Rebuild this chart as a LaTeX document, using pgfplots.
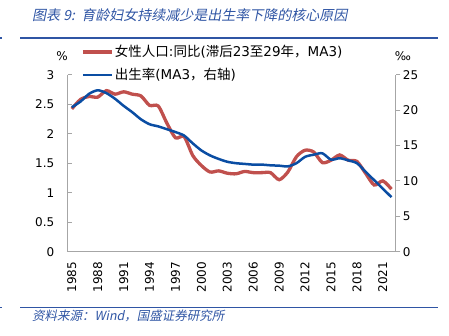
\documentclass[border=0pt]{standalone}
\usepackage{pgfplots}
\pgfplotsset{compat=1.18}
\usepackage{pgfplotstable}
\usepackage{fontspec}
\setmainfont{DejaVu Sans}
\newfontfamily\cjk{Noto Sans CJK SC}
\newfontfamily\cjkit[FakeSlant=0.2]{Noto Sans CJK SC}
\definecolor{cred}{HTML}{C0504D}
\definecolor{cblue}{HTML}{0A4DA3}
\definecolor{tblue}{HTML}{2F55A4}
\definecolor{agray}{HTML}{A6A6A6}

\pgfplotstableread{
year val
1985 2.42
1986 2.58
1987 2.63
1988 2.62
1989 2.73
1990 2.67
1991 2.71
1992 2.67
1993 2.64
1994 2.48
1995 2.47
1996 2.18
1997 1.93
1998 1.95
1999 1.63
2000 1.46
2001 1.35
2002 1.37
2003 1.33
2004 1.32
2005 1.36
2006 1.34
2007 1.34
2008 1.34
2009 1.22
2010 1.35
2011 1.61
2012 1.72
2013 1.69
2014 1.51
2015 1.55
2016 1.64
2017 1.55
2018 1.53
2019 1.33
2020 1.13
2021 1.20
2022 1.06
}\female

\pgfplotstableread{
year val
1985 20.4
1986 21.2
1987 22.3
1988 22.8
1989 22.4
1990 21.6
1991 20.6
1992 19.7
1993 18.7
1994 18.0
1995 17.7
1996 17.3
1997 16.9
1998 16.4
1999 15.3
2000 14.3
2001 13.6
2002 13.1
2003 12.7
2004 12.5
2005 12.4
2006 12.3
2007 12.3
2008 12.2
2009 12.15
2010 12.05
2011 12.5
2012 13.4
2013 13.7
2014 13.9
2015 13.0
2016 13.2
2017 12.9
2018 12.5
2019 11.3
2020 10.1
2021 8.9
2022 7.7
}\birth

\begin{document}
\begin{tikzpicture}
\useasboundingbox (0,0) rectangle (449bp,336bp);
% header / footer
\node[anchor=west, text=tblue, inner sep=0pt, font=\fontsize{14bp}{16bp}\selectfont] at (32bp,321bp) {\cjkit 图表 9:\ \ 育龄妇女持续减少是出生率下降的核心原因};
\draw[tblue, line width=1.5bp] (20bp,298bp) -- (438bp,298bp);
\draw[tblue, line width=1.5bp] (0bp,298bp) -- (2bp,298bp);
\draw[tblue, line width=1.5bp] (20bp,28.7bp) -- (438bp,28.7bp);
\draw[tblue, line width=1.5bp] (0bp,28.7bp) -- (2bp,28.7bp);
\node[anchor=west, text=tblue, inner sep=0pt, font=\fontsize{12.5bp}{14bp}\selectfont] at (32bp,20bp) {\cjkit 资料来源：Wind，国盛证券研究所};
\node[font=\fontsize{12bp}{14bp}\selectfont, inner sep=0pt] at (62bp,280bp) {\%};
\node[font=\fontsize{12bp}{14bp}\selectfont, inner sep=0pt] at (403bp,280bp) {‰};

\begin{axis}[
  at={(67.5bp,84.3bp)}, anchor=south west, scale only axis,
  width=328.3bp, height=177bp,
  xmin=1984.5, xmax=2022.5, ymin=0, ymax=3,
  axis x line*=bottom, axis y line*=left,
  axis line style={agray, line width=0.8bp},
  every tick/.style={agray, line width=0.8bp},
  tick align=inside,
  xtick={1985,1988,...,2021},
  xticklabels={1985,1988,1991,1994,1997,2000,2003,2006,2009,2012,2015,2018,2021},
  x tick style={draw=none},
  extra x ticks={1987.5,1990.5,...,2020.5},
  extra x tick labels={},
  extra x tick style={major tick length=5bp, tick style={draw=agray, line width=0.8bp}},
  xticklabel style={rotate=90, anchor=east, inner sep=0pt},
  xticklabel shift=10bp,
  ytick={0,0.5,...,3},
  yticklabels={0,0.5,1,1.5,2,2.5,3},
  major tick length=4bp,
  yticklabel style={anchor=east, inner sep=0pt, xshift=-13bp},
  ticklabel style={font=\fontsize{12bp}{14bp}\selectfont},
  legend style={at={(0.041,1.175)}, anchor=north west, draw=none, fill=none,
    inner sep=0pt, font=\fontsize{13.5bp}{15bp}\selectfont, row sep=7bp,
    nodes={inner sep=1.5bp}},
  legend cell align=left,
  legend image code/.code={\draw[#1] (0bp,0bp) -- (29bp,0bp);},
]
\addplot[cred, line width=3.3bp, smooth, tension=0.45] table[x=year,y=val]{\female};
\addlegendentry{{\cjk 女性人口}:{\cjk 同比}({\cjk 滞后}23{\cjk 至}29{\cjk 年，}MA3)}
\addlegendimage{cblue, line width=2.5bp}
\addlegendentry{{\cjk 出生率}(MA3{\cjk ，右轴})}
\end{axis}

\begin{axis}[
  at={(67.5bp,84.3bp)}, anchor=south west, scale only axis,
  width=328.3bp, height=177bp,
  xmin=1984.5, xmax=2022.5, ymin=0, ymax=25,
  axis x line=none, axis y line*=right,
  axis line style={agray, line width=0.8bp},
  every tick/.style={agray, line width=0.8bp},
  tick align=outside,
  major tick length=4.5bp,
  ytick={0,5,...,25},
  yticklabels={0,5,10,15,20,25},
  yticklabel style={anchor=west, inner sep=0pt, xshift=2.5bp},
  ticklabel style={font=\fontsize{12bp}{14bp}\selectfont},
]
\addplot[cblue, line width=2.5bp, smooth, tension=0.45] table[x=year,y=val]{\birth};
\end{axis}
\end{tikzpicture}
\end{document}
